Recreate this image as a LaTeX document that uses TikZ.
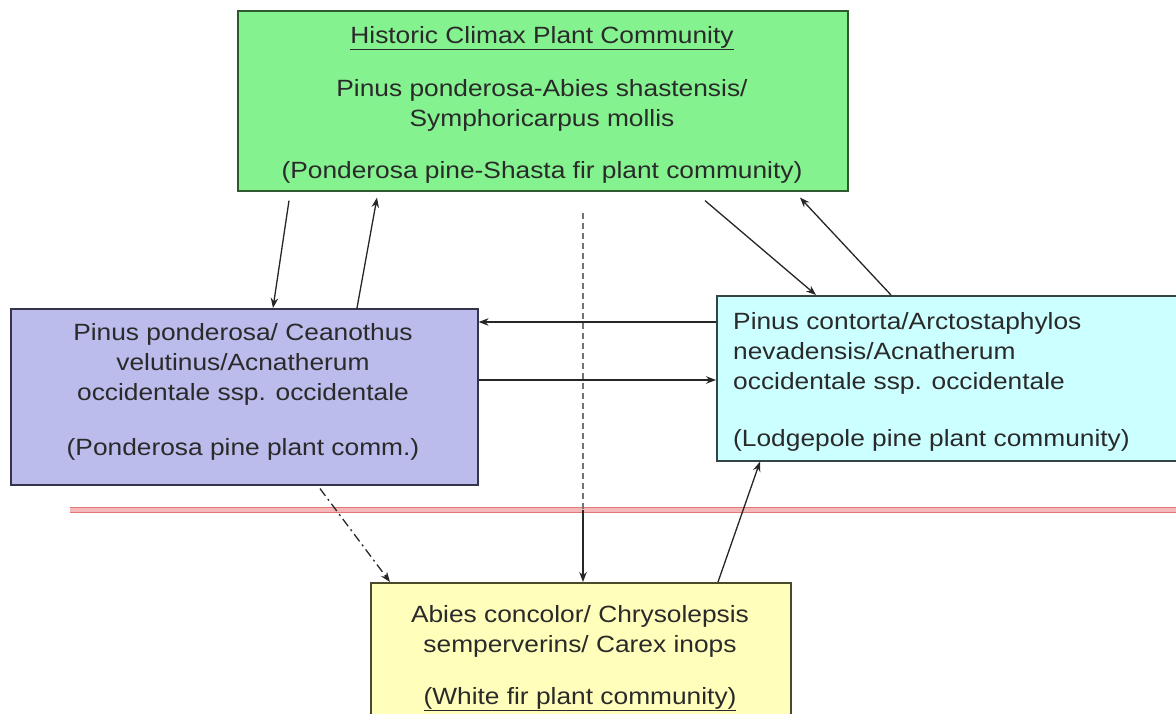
\documentclass[tikz,border=0pt]{standalone}
\usepackage{fontspec}
\setmainfont{Liberation Sans}[FakeStretch=1.12]
\usetikzlibrary{arrows.meta}
\definecolor{greenf}{HTML}{84F28F}
\definecolor{purpf}{HTML}{BBBBEC}
\definecolor{cyanf}{HTML}{CCFFFF}
\definecolor{yelf}{HTML}{FFFFBB}
\definecolor{greenb}{HTML}{2F5A2F}
\definecolor{purpb}{HTML}{33334A}
\definecolor{cyanb}{HTML}{334444}
\definecolor{yelb}{HTML}{4A4A2A}
\definecolor{textc}{HTML}{2A2A2A}
\definecolor{redl}{HTML}{E07878}
\definecolor{pinkl}{HTML}{F4B8B8}
\tikzset{
  box/.style={line width=1.6pt, inner sep=0pt, anchor=north west},
  txt/.style={font=\fontsize{23.5}{30}\selectfont, text=textc, inner sep=0pt, anchor=base},
  arr/.style={-{Stealth[length=10pt,width=7.5pt]}, line width=1.3pt, draw=black!85},
}
\begin{document}
\begin{tikzpicture}[x=1pt,y=-1pt]
\useasboundingbox (0,0) rectangle (1176,713);
\fill[white] (0,0) rectangle (1176,713);
% boxes
\node[box, draw=greenb, fill=greenf, minimum width=610pt, minimum height=180pt] (hist) at (237,10) {};
\node[box, draw=purpb, fill=purpf, minimum width=467pt, minimum height=176pt] (purp) at (10,308) {};
\node[box, draw=cyanb, fill=cyanf, minimum width=480pt, minimum height=165pt] (cyan) at (716,295) {};
\node[box, draw=yelb, fill=yelf, minimum width=420pt, minimum height=150pt] (yel) at (370,582) {};
% texts (anchor base = baseline of last line)
\node[txt, align=center] (histt) at (542,178) {\underline{Historic Climax Plant Community}\\[23pt]
  Pinus ponderosa-Abies shastensis/\\ Symphoricarpus mollis\\[22pt]
  (Ponderosa pine-Shasta fir plant community)};
\node[txt, align=center] (purpt) at (243,455) {Pinus ponderosa/ Ceanothus\\ velutinus/Acnatherum\\
  occidentale ssp. occidentale\\[25pt] (Ponderosa pine plant comm.)};
\node[txt, align=left, anchor=base west] (cyant) at (733,446) {Pinus contorta/Arctostaphylos\\ nevadensis/Acnatherum\\
  occidentale ssp. occidentale\\[27pt] (Lodgepole pine plant community)};
\node[txt, align=center] (yelt) at (580,704) {Abies concolor/ Chrysolepsis\\ semperverins/ Carex inops\\[22pt]
  \underline{(White fir plant community)}};
% red double line
\coordinate (r1) at (70,510);
\coordinate (r2) at (1176,510);
\draw[draw=redl, line width=1.2pt, double=pinkl, double distance=3.5pt] (r1) -- (r2);
% arrows
\draw[arr] ([xshift=52pt,yshift=-9pt]hist.south west) -- ([xshift=263pt]purp.north west);
\draw[arr] ([xshift=347pt]purp.north west) -- ([xshift=140pt,yshift=-6pt]hist.south west);
\draw[arr] ([xshift=468pt,yshift=-9pt]hist.south west) -- ([xshift=100pt]cyan.north west);
\draw[arr] ([xshift=175pt]cyan.north west) -- ([xshift=563pt,yshift=-6pt]hist.south west);
\draw[arr] ([yshift=-27pt]cyan.north west) -- ([yshift=-14pt]purp.north east);
\draw[arr] ([yshift=-72pt]purp.north east) -- ([yshift=-85pt]cyan.north west);
\draw[arr, dash pattern=on 9pt off 4pt on 2pt off 4pt] ([xshift=310pt,yshift=-3pt]purp.south west) -- ([xshift=20pt]yel.north west);
\coordinate (d1) at (583,213);
\coordinate (d2) at (583,510);
\draw[line width=1.2pt, draw=black!55, dash pattern=on 6pt off 4pt] (d1) -- (d2);
\draw[arr] (d2) -- ([xshift=213pt]yel.north west);
\draw[arr] ([xshift=348pt]yel.north west) -- ([xshift=44pt]cyan.south west);
\end{tikzpicture}
\end{document}
